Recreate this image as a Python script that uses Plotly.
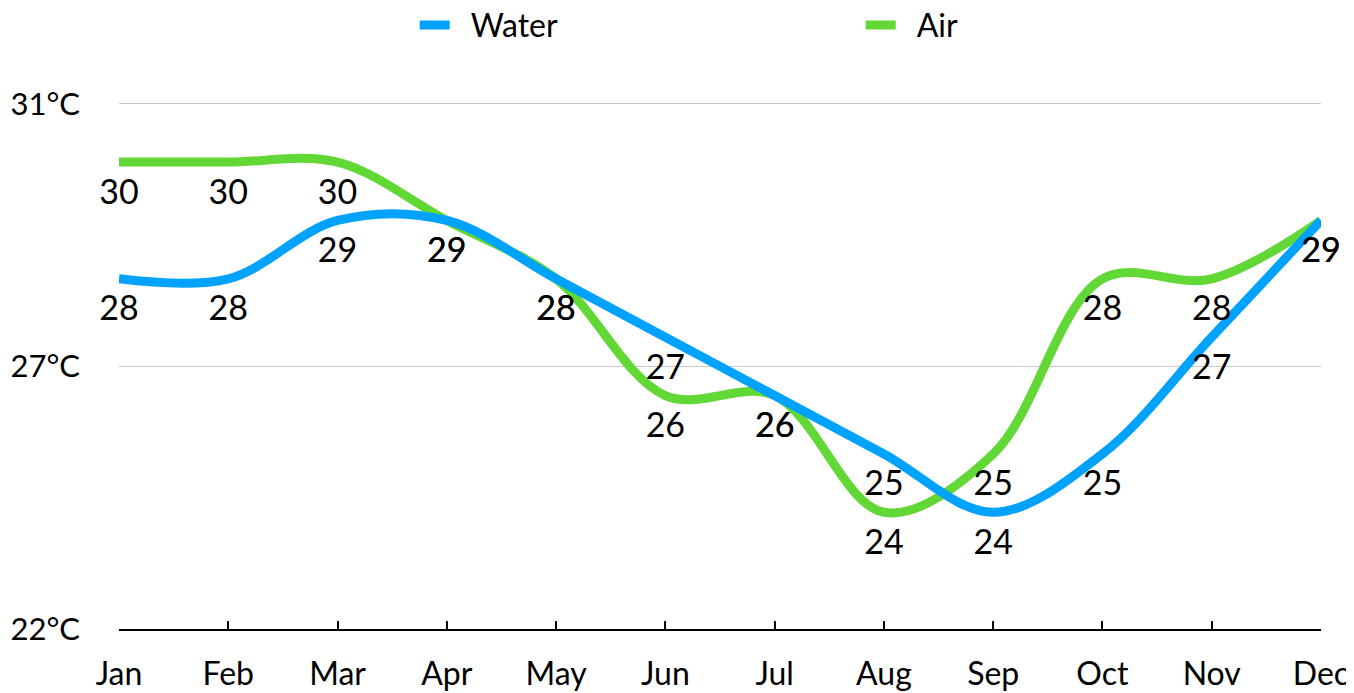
import plotly.graph_objects as go

months = ["Jan", "Feb", "Mar", "Apr", "May", "Jun", "Jul", "Aug", "Sep", "Oct", "Nov", "Dec"]
water = [28, 28, 29, 29, 28, 27, 26, 25, 24, 25, 27, 29]
air = [30, 30, 30, 29, 28, 26, 26, 24, 25, 28, 28, 29]
y_ticks = [22, 26.5, 31]
y_tick_labels = ["22°C", "27°C", "31°C"]

WATER_C = "#00A2FF"
AIR_C = "#61D836"
FONT = "Lato, 'Open Sans', sans-serif"

fig = go.Figure()
fig.add_trace(go.Scatter(x=months, y=air, name="\u2002Air", mode="lines",
                         line=dict(color=AIR_C, width=9, shape="spline", smoothing=1),
                         legendrank=2, cliponaxis=False))
fig.add_trace(go.Scatter(x=months, y=water, name="\u2002Water", mode="lines",
                         line=dict(color=WATER_C, width=9, shape="spline", smoothing=1),
                         legendrank=1, cliponaxis=False))
for vals in (air, water):
    fig.add_trace(go.Scatter(x=months, y=vals, mode="markers+text", text=[str(v) for v in vals],
                             textposition="bottom center", showlegend=False,
                             marker=dict(size=24, opacity=0),
                             textfont=dict(size=34, color="black", family=FONT),
                             hoverinfo="skip", cliponaxis=False))

fig.update_layout(
    width=1346, height=685,
    margin=dict(l=111, r=33, t=94, b=64, autoexpand=False),
    paper_bgcolor="white", plot_bgcolor="white",
    font=dict(family=FONT, size=32, color="black"),
    legend=dict(orientation="h", x=0.246, xanchor="left", y=0.975, yanchor="middle",
                yref="container", entrywidth=401, entrywidthmode="pixels",
                font=dict(size=32), itemwidth=30),
    showlegend=True,
)
fig.update_xaxes(type="category", range=[0, 11], showgrid=False, showline=True,
                 linecolor="black", linewidth=2, ticks="inside", ticklen=8,
                 tickcolor="black", tickwidth=2, ticklabelstandoff=16,
                 tickfont=dict(size=32), zeroline=False, automargin=False)
fig.update_yaxes(range=[22, 31.03], tickvals=y_ticks, ticktext=y_tick_labels,
                 showgrid=True, gridcolor="#c8c8c8", gridwidth=1, zeroline=False,
                 showline=False, ticks="", tickfont=dict(size=31),
                 ticklabelstandoff=38, automargin=False)

fig.write_html("out.html")
